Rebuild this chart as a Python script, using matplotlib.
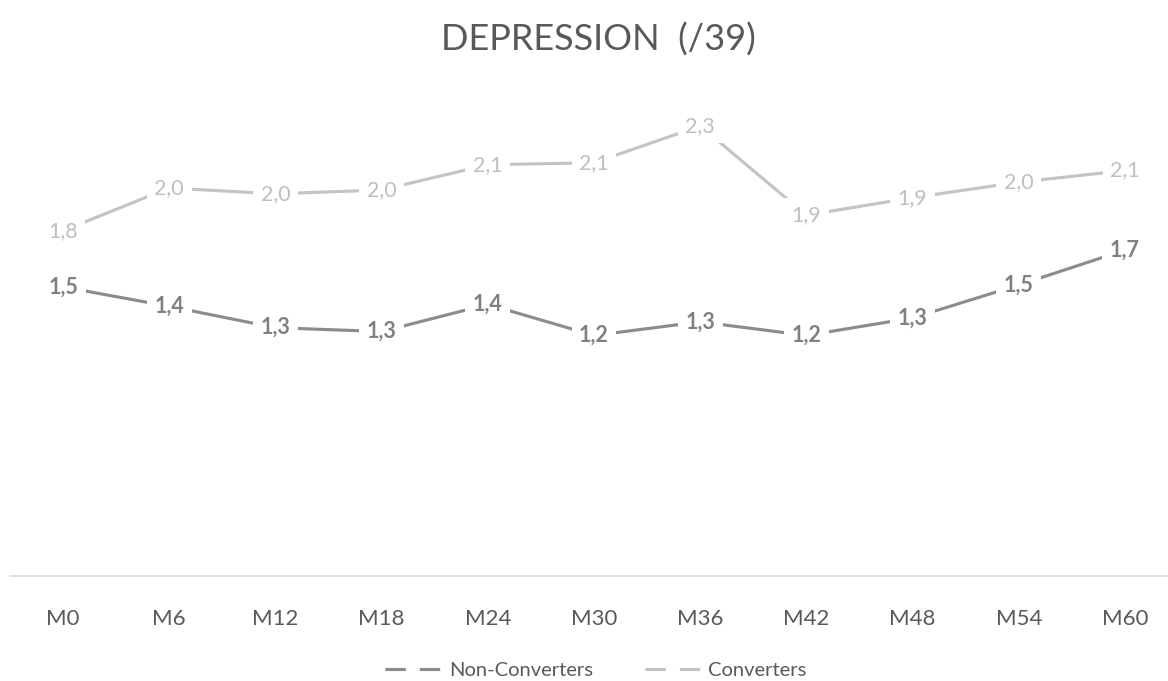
import matplotlib.pyplot as plt
from matplotlib.lines import Line2D

plt.rcParams['font.family'] = ['Lato', 'DejaVu Sans']

# data
months = ["M0", "M6", "M12", "M18", "M24", "M30", "M36", "M42", "M48", "M54", "M60"]
non_converters = [1.49, 1.39, 1.28, 1.26, 1.40, 1.24, 1.31, 1.24, 1.33, 1.50, 1.68]
converters = [1.78, 2.00, 1.97, 1.99, 2.12, 2.13, 2.32, 1.86, 1.95, 2.03, 2.09]

dark = "#8c8c8c"
light = "#c4c4c4"
text_col = "#595959"

fig = plt.figure(figsize=(11.68, 6.81), dpi=100)
ax = fig.add_axes([10 / 1168, 105 / 681, 1168 / 1168, 485 / 681])

x = list(range(len(months)))
ax.plot(x, non_converters, color=dark, lw=2.25, solid_capstyle="butt", zorder=2)
ax.plot(x, converters, color=light, lw=2.25, solid_capstyle="butt", zorder=2)


def lab(v):
    return f"{v:.1f}".replace(".", ",")


for xi, v in zip(x, non_converters):
    ax.text(xi, v, lab(v), ha="center", va="center", fontsize=15.5, fontweight="bold",
            color="#808080", zorder=3,
            bbox=dict(boxstyle="square,pad=0.35", fc="white", ec="none"))
for xi, v in zip(x, converters):
    ax.text(xi, v, lab(v), ha="center", va="center", fontsize=15.5,
            color="#bfbfbf", zorder=3,
            bbox=dict(boxstyle="square,pad=0.35", fc="white", ec="none"))

ax.set_xlim(-0.5, 10.5)
ax.set_ylim(0, 2.5)
ax.set_xticks(x)
ax.set_xticklabels(months, fontsize=16, color=text_col)
ax.tick_params(axis="x", length=0, pad=24)
ax.set_yticks([])
for s in ["top", "right", "left"]:
    ax.spines[s].set_visible(False)
ax.spines["bottom"].set_color("#d9d9d9")
ax.spines["bottom"].set_linewidth(1.2)

fig.text(598 / 1168, 1 - 40 / 681, "DEPRESSION  (/39)", ha="center", va="center",
         fontsize=26, color=text_col)

handles = [
    Line2D([], [], color=dark, lw=2.25, dashes=(6.5, 4.5)),
    Line2D([], [], color=light, lw=2.25, dashes=(6.5, 4.5)),
]
fig.legend(handles, ["Non-Converters", "Converters"], loc="center",
           bbox_to_anchor=(596 / 1168, 1 - 670 / 681), ncol=2, frameon=False,
           fontsize=14.5, labelcolor=text_col, handlelength=2.9, handletextpad=0.25,
           columnspacing=2.6)

fig.savefig("out.png", dpi=100)
